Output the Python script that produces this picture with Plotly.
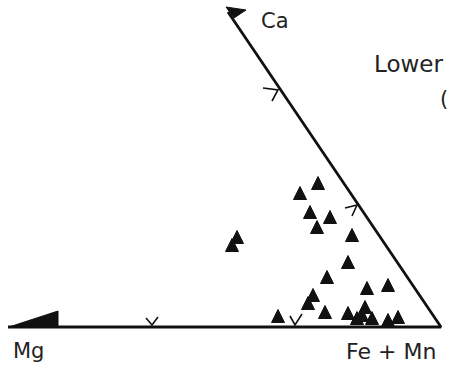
import plotly.graph_objects as go

# Sample points (diagram units: x to the right, y downward, matching the scanned figure)
pts_x = [318, 300, 310, 330, 317, 352, 237, 232, 348, 327, 367, 388, 313, 308,
         325, 278, 348, 365, 357, 372, 388, 398, 362]
pts_y = [183, 193, 212, 217, 227, 235, 237, 245, 262, 277, 288, 285, 295, 303,
         312, 316, 313, 307, 318, 318, 320, 317, 315]

# Diagram frame: base (Mg -> Fe+Mn) and right edge (Fe+Mn -> Ca)
frame_x = [8, 441, 228]
frame_y = [327, 327, 12]

# Mg end wedge and Ca apex arrowhead
mg_wedge_x = [9, 58, 58, 9]
mg_wedge_y = [327, 311, 327, 327]
ca_head_x = [226, 246, 234, 226]
ca_head_y = [7, 10, 18, 7]

# Direction chevrons along the edges (segments separated by None)
chev_x = [263, 278, 272, None, 345, 357, 352, None, 146, 152, 158, None, 290, 295, 302]
chev_y = [88, 90, 101, None, 208, 205, 216, None, 318, 325, 317, None, 316, 325, 314]

labels = ["Ca", "Lower", "(", "Mg", "Fe + Mn"]
label_x = [259, 372, 438, 11, 344]
label_y = [21, 64, 99, 351, 351]
label_size = [21, 23, 21, 21, 22]

ink = "#111111"
tri = 13

fig = go.Figure()
fig.add_trace(go.Scatter(x=frame_x, y=frame_y, mode="lines",
                         line=dict(color=ink, width=2.8), hoverinfo="skip"))
fig.add_trace(go.Scatter(x=mg_wedge_x, y=mg_wedge_y, mode="lines", fill="toself",
                         fillcolor=ink, line=dict(color=ink, width=1), hoverinfo="skip"))
fig.add_trace(go.Scatter(x=ca_head_x, y=ca_head_y, mode="lines", fill="toself",
                         fillcolor=ink, line=dict(color=ink, width=1), hoverinfo="skip"))
fig.add_trace(go.Scatter(x=chev_x, y=chev_y, mode="lines",
                         line=dict(color=ink, width=1.6), hoverinfo="skip"))
# arrow-up markers are anchored at their tip: shift by half the marker height
fig.add_trace(go.Scatter(x=pts_x, y=[v - tri / 2 for v in pts_y], mode="markers",
                         marker=dict(symbol="arrow-up", size=tri, color=ink,
                                     line=dict(width=1, color=ink))))

for t, x, y, s in zip(labels, label_x, label_y, label_size):
    fig.add_annotation(x=x, y=y, xref="x", yref="y", text=t, showarrow=False,
                       xanchor="left", yanchor="middle",
                       font=dict(family="DejaVu Sans", size=s, color="#222222"))

fig.update_layout(width=450, height=369, margin=dict(l=0, r=0, t=0, b=0),
                  plot_bgcolor="white", paper_bgcolor="white", showlegend=False,
                  xaxis=dict(range=[0, 450], visible=False, fixedrange=True),
                  yaxis=dict(range=[369, 0], visible=False, fixedrange=True))

fig.write_html("out.html", config={"displayModeBar": False},
               post_script="document.body.style.margin='0';")
